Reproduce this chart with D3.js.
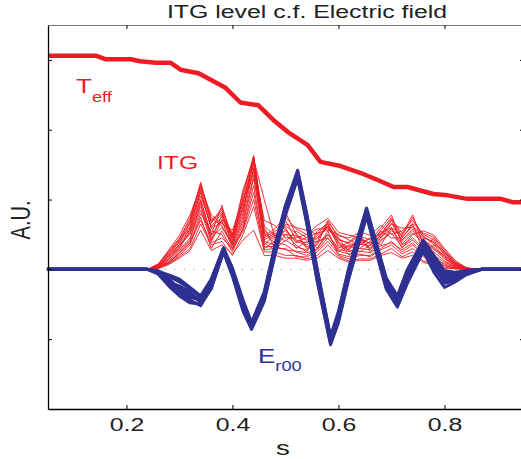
<!DOCTYPE html>
<html>
<head>
<meta charset="utf-8">
<script src="https://cdn.jsdelivr.net/npm/d3@7"></script>
<style>
  body { margin: 0; background: #fff; }
  text { font-family: "Liberation Sans", Arial, Helvetica, sans-serif; }
</style>
</head>
<body>
<div id="chart"></div>
<script>
// x ticks (s) and y ticks (A.U., unlabelled)
const xTicks = [0.2, 0.4, 0.6, 0.8];
const yTicks = [-1, 0, 1, 2, 3];

// effective temperature profile
const teffS = [0.053, 0.142, 0.160, 0.208, 0.226, 0.255, 0.283, 0.302, 0.336, 0.358, 0.387, 0.415, 0.449, 0.477, 0.504, 0.542, 0.566, 0.604, 0.642, 0.674, 0.704, 0.730, 0.779, 0.806, 0.843, 0.906, 0.930, 0.95];
const teffV = [3.06, 3.06, 3.01, 3.01, 2.98, 2.96, 2.96, 2.86, 2.81, 2.72, 2.60, 2.39, 2.35, 2.14, 1.97, 1.78, 1.54, 1.48, 1.38, 1.28, 1.18, 1.18, 1.08, 1.06, 1.01, 1.01, 0.96, 0.96];

// ITG level, ensemble of runs on a common s grid
const itgS = [0.24, 0.26, 0.28, 0.30, 0.32, 0.34, 0.36, 0.38, 0.40, 0.42, 0.44, 0.46, 0.48, 0.50, 0.52, 0.54, 0.56, 0.58, 0.60, 0.62, 0.64, 0.66, 0.68, 0.70, 0.72, 0.74, 0.76, 0.78, 0.80, 0.82, 0.84, 0.86];
const itgRuns = [
  [0, 0.08, 0.26, 0.45, 0.70, 1.25, 0.70, 0.85, 0.45, 1.10, 1.63, 0.55, 0.45, 0.55, 0.40, 0.35, 0.45, 0.60, 0.35, 0.30, 0.40, 0.30, 0.50, 0.70, 0.40, 0.55, 0.40, 0.30, 0.15, 0.05, 0.01, 0],
  [0, 0.06, 0.20, 0.40, 0.62, 1.10, 0.60, 0.75, 0.50, 0.95, 1.60, 0.40, 0.35, 0.82, 0.50, 0.30, 0.35, 0.70, 0.45, 0.25, 0.30, 0.40, 0.60, 0.78, 0.35, 0.45, 0.30, 0.45, 0.25, 0.10, 0.02, 0],
  [0, 0.04, 0.15, 0.30, 0.55, 1.00, 0.50, 0.92, 0.40, 0.85, 1.55, 0.35, 0.50, 0.40, 0.55, 0.45, 0.30, 0.50, 0.30, 0.40, 0.50, 0.25, 0.40, 0.55, 0.50, 0.78, 0.35, 0.20, 0.10, 0.04, 0.01, 0],
  [0, 0.05, 0.18, 0.35, 0.50, 0.90, 0.45, 0.60, 0.35, 0.75, 1.45, 0.60, 0.30, 0.50, 0.35, 0.25, 0.55, 0.65, 0.40, 0.20, 0.35, 0.45, 0.35, 0.60, 0.30, 0.50, 0.55, 0.49, 0.30, 0.13, 0.03, 0],
  [0, 0.03, 0.12, 0.28, 0.45, 0.85, 0.40, 0.70, 0.30, 0.65, 1.30, 0.45, 0.55, 0.60, 0.30, 0.40, 0.40, 0.45, 0.25, 0.35, 0.25, 0.35, 0.55, 0.45, 0.45, 0.65, 0.25, 0.35, 0.18, 0.06, 0.01, 0],
  [0, 0.02, 0.10, 0.22, 0.38, 0.80, 0.55, 0.50, 0.25, 0.60, 1.20, 0.30, 0.40, 0.35, 0.25, 0.20, 0.30, 0.55, 0.20, 0.15, 0.20, 0.20, 0.30, 0.40, 0.25, 0.35, 0.20, 0.15, 0.08, 0.03, 0, 0],
  [0, 0.07, 0.28, 0.49, 0.78, 1.18, 0.78, 0.65, 0.56, 1.00, 1.50, 0.70, 0.63, 0.45, 0.45, 0.50, 0.63, 0.73, 0.53, 0.49, 0.45, 0.30, 0.45, 0.65, 0.59, 0.60, 0.45, 0.40, 0.22, 0.08, 0.02, 0],
  [0, 0.02, 0.08, 0.18, 0.30, 0.65, 0.35, 0.40, 0.20, 0.50, 0.90, 0.25, 0.25, 0.20, 0.20, 0.15, 0.20, 0.35, 0.18, 0.12, 0.15, 0.15, 0.22, 0.30, 0.18, 0.25, 0.12, 0.08, 0.03, 0.01, 0, 0],
  [0, 0.04, 0.14, 0.32, 0.58, 1.05, 0.62, 0.80, 0.42, 0.90, 1.40, 0.50, 0.38, 0.65, 0.60, 0.56, 0.50, 0.68, 0.48, 0.45, 0.53, 0.49, 0.63, 0.50, 0.55, 0.70, 0.50, 0.42, 0.20, 0.07, 0.01, 0],
  [0, 0.03, 0.09, 0.20, 0.35, 0.75, 0.30, 0.55, 0.28, 0.55, 1.00, 0.28, 0.30, 0.30, 0.18, 0.18, 0.25, 0.40, 0.22, 0.18, 0.22, 0.18, 0.28, 0.35, 0.22, 0.30, 0.18, 0.12, 0.05, 0.02, 0, 0],
  [0, 0.05, 0.22, 0.42, 0.66, 1.15, 0.66, 0.88, 0.48, 1.14, 1.58, 1.00, 0.45, 0.70, 0.42, 0.38, 0.48, 0.62, 0.38, 0.32, 0.42, 0.38, 0.48, 0.66, 0.42, 0.58, 0.42, 0.32, 0.16, 0.06, 0.01, 0],
  [0, 0.01, 0.07, 0.16, 0.27, 0.56, 0.27, 0.35, 0.22, 0.42, 0.56, 0.20, 0.20, 0.16, 0.16, 0.13, 0.16, 0.27, 0.16, 0.10, 0.13, 0.13, 0.20, 0.24, 0.16, 0.20, 0.10, 0.06, 0.01, 0.01, 0, 0],
  [0, 0.06, 0.24, 0.38, 0.68, 1.20, 0.74, 0.62, 0.38, 0.80, 1.62, 0.48, 0.58, 0.75, 0.58, 0.50, 0.58, 0.58, 0.42, 0.38, 0.48, 0.42, 0.52, 0.60, 0.48, 0.74, 0.46, 0.38, 0.26, 0.09, 0.02, 0],
  [0, 0.03, 0.11, 0.26, 0.42, 0.95, 0.42, 0.78, 0.33, 0.70, 1.35, 0.38, 0.28, 0.42, 0.32, 0.28, 0.38, 0.50, 0.28, 0.26, 0.30, 0.28, 0.42, 0.52, 0.32, 0.42, 0.28, 0.25, 0.12, 0.04, 0.01, 0],
  [0, 0.05, 0.19, 0.36, 0.60, 1.12, 0.58, 0.68, 0.46, 0.98, 1.52, 0.42, 0.52, 0.50, 0.48, 0.42, 0.44, 0.62, 0.44, 0.36, 0.38, 0.44, 0.50, 0.72, 0.52, 0.66, 0.52, 0.46, 0.28, 0.11, 0.02, 0],
  [0, 0.02, 0.09, 0.24, 0.40, 0.70, 0.38, 0.45, 0.30, 0.58, 1.10, 0.32, 0.33, 0.28, 0.26, 0.24, 0.28, 0.45, 0.26, 0.22, 0.26, 0.24, 0.34, 0.38, 0.28, 0.38, 0.22, 0.18, 0.06, 0.02, 0, 0],
  [0, 0.04, 0.16, 0.34, 0.52, 0.98, 0.48, 0.72, 0.52, 0.88, 1.45, 0.52, 0.42, 0.58, 0.38, 0.46, 0.52, 0.56, 0.50, 0.42, 0.36, 0.34, 0.46, 0.58, 0.36, 0.52, 0.38, 0.28, 0.20, 0.08, 0.01, 0],
  [0, 0.07, 0.25, 0.43, 0.74, 1.22, 0.68, 0.82, 0.36, 1.05, 1.60, 0.62, 0.48, 0.62, 0.52, 0.32, 0.40, 0.66, 0.32, 0.28, 0.46, 0.36, 0.56, 0.74, 0.46, 0.62, 0.48, 0.36, 0.24, 0.10, 0.02, 0]
];

// zonal electric field Er00, ensemble of runs
const erS = [0.05, 0.24, 0.26, 0.28, 0.30, 0.32, 0.34, 0.36, 0.383, 0.40, 0.42, 0.436, 0.46, 0.48, 0.50, 0.523, 0.54, 0.56, 0.585, 0.60, 0.62, 0.653, 0.67, 0.69, 0.711, 0.73, 0.76, 0.78, 0.80, 0.82, 0.84, 0.87, 0.95];
const erRuns = [
  [0, 0, -0.04, -0.16, -0.26, -0.36, -0.46, -0.20, 0.29, -0.04, -0.52, -0.81, -0.39, 0.27, 0.85, 1.37, 0.73, -0.09, -1.02, -0.68, -0.04, 0.82, 0.35, -0.20, -0.47, -0.09, 0.36, 0.10, -0.09, -0.10, -0.04, 0, 0],
  [0, 0, -0.02, -0.10, -0.18, -0.28, -0.40, -0.16, 0.30, 0.00, -0.46, -0.78, -0.34, 0.32, 0.90, 1.40, 0.78, -0.02, -0.98, -0.62, 0.02, 0.86, 0.40, -0.14, -0.42, -0.02, 0.40, 0.16, -0.04, -0.06, -0.02, 0, 0],
  [0, 0, -0.06, -0.22, -0.34, -0.44, -0.52, -0.26, 0.26, -0.08, -0.58, -0.84, -0.44, 0.22, 0.80, 1.32, 0.68, -0.16, -1.06, -0.74, -0.10, 0.78, 0.30, -0.26, -0.52, -0.16, 0.30, 0.02, -0.16, -0.14, -0.06, 0, 0],
  [0, 0, -0.03, -0.13, -0.30, -0.40, -0.44, -0.22, 0.28, -0.02, -0.50, -0.80, -0.36, 0.30, 0.86, 1.36, 0.72, -0.06, -1.00, -0.66, -0.02, 0.84, 0.38, -0.18, -0.44, -0.04, 0.38, 0.08, -0.12, -0.12, -0.05, 0, 0],
  [0, 0, -0.05, -0.18, -0.24, -0.32, -0.48, -0.24, 0.27, -0.06, -0.54, -0.82, -0.42, 0.24, 0.82, 1.34, 0.70, -0.12, -1.04, -0.70, -0.06, 0.80, 0.32, -0.22, -0.50, -0.12, 0.34, 0.06, -0.20, -0.16, -0.08, 0, 0],
  [0, 0, -0.04, -0.20, -0.32, -0.38, -0.42, -0.18, 0.30, -0.02, -0.48, -0.79, -0.37, 0.28, 0.88, 1.38, 0.75, -0.04, -0.99, -0.64, 0.00, 0.84, 0.36, -0.16, -0.40, -0.06, 0.36, 0.12, -0.06, -0.10, -0.03, 0, 0],
  [0, 0, -0.03, -0.08, -0.14, -0.26, -0.38, -0.14, 0.31, 0.02, -0.44, -0.76, -0.32, 0.34, 0.92, 1.42, 0.80, 0.00, -0.96, -0.60, 0.04, 0.88, 0.42, -0.12, -0.38, 0.00, 0.42, 0.20, -0.02, -0.04, -0.02, 0, 0],
  [0, 0, -0.07, -0.24, -0.38, -0.48, -0.50, -0.28, 0.25, -0.10, -0.60, -0.86, -0.46, 0.20, 0.78, 1.30, 0.66, -0.18, -1.08, -0.76, -0.12, 0.76, 0.28, -0.28, -0.54, -0.20, 0.26, -0.04, -0.26, -0.18, -0.08, 0, 0]
];

const red = "#ed1c24";
const blue = "#2e3192";
const stretch = 1.38;   // glyphs in the picture are wider than tall

var margin = {top: 25, right: -3, bottom: 50, left: 48},
    width = 521 - margin.left - margin.right,
    height = 459 - margin.top - margin.bottom;

var svg = d3.select("#chart")
    .append("svg")
    .attr("width", 521)
    .attr("height", 459);

var g = svg.append("g")
    .attr("transform", "translate(" + margin.left + "," + margin.top + ")");

var x = d3.scaleLinear().domain([0.052, 0.95]).range([0, width]);
var y = d3.scaleLinear().domain([-2, 3.5]).range([height, 0]);

// zero reference, dotted
g.append("line")
    .attr("x1", 0).attr("x2", width)
    .attr("y1", y(0)).attr("y2", y(0))
    .attr("stroke", "#888")
    .attr("stroke-width", 1)
    .attr("stroke-dasharray", "1,8.7");

function runLine(sArr){
    return d3.line()
        .x(function(d, i){ return x(sArr[i]); })
        .y(function(d){ return y(d); });
}

g.selectAll("path.itg")
    .data(itgRuns)
    .enter().append("path")
    .attr("class", "itg")
    .attr("fill", "none")
    .attr("stroke", red)
    .attr("stroke-width", 0.9)
    .attr("d", runLine(itgS));

g.selectAll("path.er")
    .data(erRuns)
    .enter().append("path")
    .attr("class", "er")
    .attr("fill", "none")
    .attr("stroke", blue)
    .attr("stroke-width", 3)
    .attr("stroke-linejoin", "round")
    .attr("d", runLine(erS));

g.append("path")
    .datum(teffV)
    .attr("fill", "none")
    .attr("stroke", red)
    .attr("stroke-width", 4.5)
    .attr("stroke-linejoin", "round")
    .attr("d", runLine(teffS));

// box with inward ticks
g.append("g")
    .attr("transform", "translate(0," + height + ")")
    .call(d3.axisBottom(x).tickValues(xTicks).tickSizeInner(-4).tickSizeOuter(0).tickPadding(9))
    .call(function(a){
        a.select(".domain").attr("stroke-width", 1.3);
        a.selectAll("text")
            .attr("font-size", 18).attr("fill", "#222").attr("font-family", null)
            .attr("transform", "scale(" + stretch + ",1)");
    });
g.append("g")
    .call(d3.axisTop(x).tickValues(xTicks).tickSizeInner(-4).tickSizeOuter(0).tickFormat(""))
    .call(function(a){ a.select(".domain").attr("stroke", "#777"); });
g.append("g")
    .call(d3.axisLeft(y).tickValues(yTicks).tickSizeInner(-4).tickSizeOuter(0).tickFormat(""))
    .call(function(a){ a.select(".domain").attr("stroke-width", 1.3); });
g.append("g")
    .attr("transform", "translate(" + width + ",0)")
    .call(d3.axisRight(y).tickValues(yTicks).tickSizeInner(-4).tickSizeOuter(0).tickFormat(""));

// titles
svg.append("text")
    .attr("transform", "translate(307,18) scale(" + stretch + ",1)")
    .attr("text-anchor", "middle")
    .attr("font-size", 18)
    .attr("fill", "#222")
    .text("ITG level c.f. Electric field");

svg.append("text")
    .attr("transform", "translate(" + (margin.left + width / 2 - 3) + ",455) scale(" + stretch + ",1)")
    .attr("text-anchor", "middle")
    .attr("font-size", 20)
    .attr("fill", "#222")
    .text("s");

svg.append("text")
    .attr("transform", "translate(30,220) rotate(-90) scale(1," + stretch + ")")
    .attr("text-anchor", "middle")
    .attr("font-size", 20)
    .attr("fill", "#222")
    .text("A.U.");

// curve labels
var teffLab = svg.append("text")
    .attr("transform", "translate(76,93) scale(1.3,1)")
    .attr("fill", red);
teffLab.append("tspan").attr("font-size", 20).text("T");
teffLab.append("tspan").attr("font-size", 14).attr("dy", 9).text("eff");

svg.append("text")
    .attr("transform", "translate(157,169) scale(1.3,1)")
    .attr("fill", red)
    .attr("font-size", 19)
    .text("ITG");

var erLab = svg.append("text")
    .attr("transform", "translate(258,363) scale(1.3,1)")
    .attr("fill", blue);
erLab.append("tspan").attr("font-size", 20).text("E");
erLab.append("tspan").attr("font-size", 14).attr("dy", 8).text("r00");
</script>
</body>
</html>
